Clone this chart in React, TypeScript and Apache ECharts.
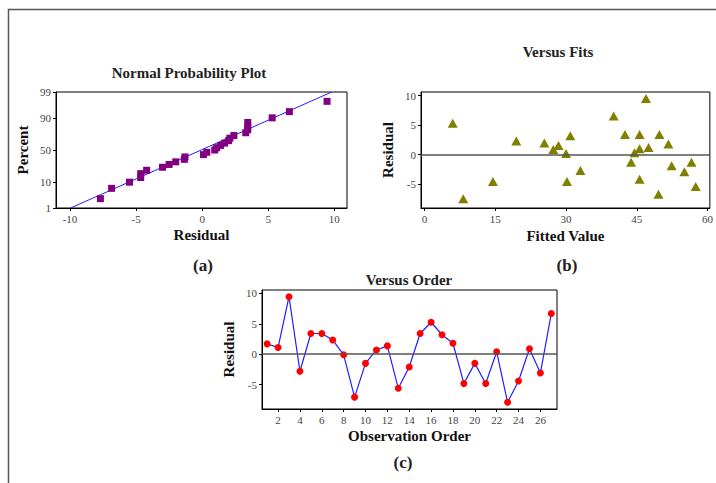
import React, { useEffect, useRef } from "react";
import * as echarts from "echarts";

// (a) Normal probability plot: sorted residuals vs. percent
const probResiduals = [-7.7, -6.85, -5.5, -4.65, -4.65, -4.2, -3.0, -2.5, -2.0, -1.35, -1.3, 0.1, 0.35, 0.95, 1.1, 1.4, 1.7, 2.0, 2.1, 2.4, 3.3, 3.45, 3.45, 3.45, 5.3, 6.6, 9.45];
const probPercents = [2.55, 6.2, 9.85, 13.5, 17.15, 20.8, 24.45, 28.1, 31.75, 35.4, 39.05, 42.7, 46.35, 50.0, 53.65, 57.3, 60.95, 64.6, 68.25, 71.9, 75.55, 79.2, 82.85, 86.5, 90.15, 93.8, 97.45];
const probTickPercents = [1, 10, 50, 90, 99];
const probResidualTicks = [-10, -5, 0, 5, 10];
const fitLinePercents = [1, 99];
const fitLineResiduals = [-9.95, 9.8];

// (b) Versus fits
const fittedValues = [5.97, 8.2, 14.5, 19.45, 25.4, 27.3, 28.4, 30.0, 30.2, 30.9, 33.05, 40.1, 42.5, 43.8, 44.5, 45.6, 45.6, 45.6, 46.95, 47.5, 49.8, 49.6, 51.7, 52.4, 55.1, 56.6, 57.5];
const fitResiduals = [5.3, -7.5, -4.55, 2.3, 1.95, 0.85, 1.55, 0.17, -4.55, 3.2, -2.7, 6.55, 3.4, -1.3, 0.3, 3.4, 1.0, -4.2, 9.5, 1.2, 3.4, -6.7, 1.8, -1.9, -2.9, -1.3, -5.4];
const fitTicks = [0, 15, 30, 45, 60];

// (c) Versus order
const observationOrder = [1, 2, 3, 4, 5, 6, 7, 8, 9, 10, 11, 12, 13, 14, 15, 16, 17, 18, 19, 20, 21, 22, 23, 24, 25, 26, 27];
const orderResiduals = [1.7, 1.1, 9.45, -2.8, 3.4, 3.4, 2.35, -0.1, -7.05, -1.5, 0.7, 1.37, -5.6, -2.1, 3.4, 5.25, 3.2, 1.8, -4.8, -1.5, -4.8, 0.4, -7.9, -4.4, 0.9, -3.1, 6.7];
const orderTicks = [2, 4, 6, 8, 10, 12, 14, 16, 18, 20, 22, 24, 26];
const residualTicks = [-5, 0, 5, 10];

// inverse standard normal CDF (Acklam) – transforms percent to probability-scale position
function normInv(p: number): number {
  const a = [-3.969683028665376e1, 2.209460984245205e2, -2.759285104469687e2, 1.38357751867269e2, -3.066479806614716e1, 2.506628277459239];
  const b = [-5.447609879822406e1, 1.615858368580409e2, -1.556989798598866e2, 6.680131188771972e1, -1.328068155288572e1];
  const c = [-7.784894002430293e-3, -3.223964580411365e-1, -2.400758277161838, -2.549732539343734, 4.374664141464968, 2.938163982698783];
  const d = [7.784695709041462e-3, 3.224671290700398e-1, 2.445134137142996, 3.754408661907416];
  const pl = 0.02425;
  if (p < pl) {
    const q = Math.sqrt(-2 * Math.log(p));
    return (((((c[0] * q + c[1]) * q + c[2]) * q + c[3]) * q + c[4]) * q + c[5]) / ((((d[0] * q + d[1]) * q + d[2]) * q + d[3]) * q + 1);
  }
  if (p > 1 - pl) {
    const q = Math.sqrt(-2 * Math.log(1 - p));
    return -(((((c[0] * q + c[1]) * q + c[2]) * q + c[3]) * q + c[4]) * q + c[5]) / ((((d[0] * q + d[1]) * q + d[2]) * q + d[3]) * q + 1);
  }
  const q = p - 0.5;
  const r = q * q;
  return ((((((a[0] * r + a[1]) * r + a[2]) * r + a[3]) * r + a[4]) * r + a[5]) * q) / (((((b[0] * r + b[1]) * r + b[2]) * r + b[3]) * r + b[4]) * r + 1);
}

const SERIF = "'Liberation Serif', 'Times New Roman', serif";

export default function App() {
  const ref = useRef<HTMLDivElement>(null);

  useEffect(() => {
    if (!ref.current) return;
    const chart = echarts.init(ref.current, null, { renderer: "svg" });

    const zTicks = probTickPercents.map((p) => normInv(p / 100));
    const zMin = normInv(0.01);
    const zMax = normInv(0.99);

    const tickLabel = { fontFamily: SERIF, fontSize: 11, color: "#444", margin: 5 };
    const nameStyle = { fontFamily: SERIF, fontSize: 15, fontWeight: "bold" as const, color: "#111" };
    const axisLine = { show: true, onZero: false, lineStyle: { color: "#000", width: 1 } };
    const axisTickBase = { show: true, length: 3, inside: false, lineStyle: { color: "#000" } };

    const zeroLine = {
      silent: true,
      symbol: "none",
      label: { show: false },
      lineStyle: { color: "#555", width: 1.5, type: "solid" as const },
      data: [{ yAxis: 0 }],
    };

    const gridBase = { show: true, borderColor: "#000", borderWidth: 1, backgroundColor: "transparent", containLabel: false };

    const option: echarts.EChartsOption = {
      animation: false,
      backgroundColor: "#fff",
      grid: [
        { ...gridBase, left: 56, top: 92, width: 291, height: 116 },
        { ...gridBase, left: 421, top: 92, width: 291, height: 116 },
        { ...gridBase, left: 262, top: 290, width: 295, height: 119 },
      ],
      xAxis: [
        {
          type: "value", gridIndex: 0, min: -11.06, max: 10.96,
          axisLine, splitLine: { show: false },
          axisTick: { ...axisTickBase, customValues: probResidualTicks } as any,
          axisLabel: { ...tickLabel, customValues: probResidualTicks } as any,
          name: "Residual", nameLocation: "middle", nameGap: 19, nameTextStyle: nameStyle,
        },
        {
          type: "value", gridIndex: 1, min: -0.76, max: 60.5,
          axisLine, splitLine: { show: false },
          axisTick: { ...axisTickBase, customValues: fitTicks } as any,
          axisLabel: { ...tickLabel, customValues: fitTicks } as any,
          name: "Fitted Value", nameLocation: "middle", nameGap: 20, nameTextStyle: nameStyle,
        },
        {
          type: "value", gridIndex: 2, min: 0.53, max: 27.52,
          axisLine, splitLine: { show: false },
          axisTick: { ...axisTickBase, customValues: orderTicks } as any,
          axisLabel: { ...tickLabel, customValues: orderTicks } as any,
          name: "Observation Order", nameLocation: "middle", nameGap: 19, nameTextStyle: nameStyle,
        },
      ],
      yAxis: [
        {
          type: "value", gridIndex: 0, min: zMin, max: zMax,
          axisLine, splitLine: { show: false },
          axisTick: { ...axisTickBase, customValues: zTicks } as any,
          axisLabel: {
            ...tickLabel,
            customValues: zTicks,
            formatter: (v: number) => {
              let best = 0;
              zTicks.forEach((z, i) => { if (Math.abs(z - v) < Math.abs(zTicks[best] - v)) best = i; });
              return String(probTickPercents[best]);
            },
          } as any,
          name: "Percent", nameLocation: "middle", nameGap: 26, nameTextStyle: nameStyle,
        },
        {
          type: "value", gridIndex: 1, min: -9.05, max: 10.6,
          axisLine, splitLine: { show: false },
          axisTick: { ...axisTickBase, customValues: residualTicks } as any,
          axisLabel: { ...tickLabel, customValues: residualTicks } as any,
          name: "Residual", nameLocation: "middle", nameGap: 26, nameTextStyle: nameStyle,
        },
        {
          type: "value", gridIndex: 2, min: -9.0, max: 10.55,
          axisLine, splitLine: { show: false },
          axisTick: { ...axisTickBase, customValues: residualTicks } as any,
          axisLabel: { ...tickLabel, customValues: residualTicks } as any,
          name: "Residual", nameLocation: "middle", nameGap: 26, nameTextStyle: nameStyle,
        },
      ],
      series: [
        {
          type: "line", xAxisIndex: 0, yAxisIndex: 0, name: "Fit",
          data: fitLineResiduals.map((r, i) => [r, normInv(fitLinePercents[i] / 100)]),
          symbol: "none", lineStyle: { color: "#1f1fff", width: 1 }, z: 2,
        },
        {
          type: "scatter", xAxisIndex: 0, yAxisIndex: 0, name: "Probability",
          data: probResiduals.map((r, i) => [r, normInv(probPercents[i] / 100)]),
          symbol: "rect", symbolSize: 7, itemStyle: { color: "#800080", opacity: 1 }, z: 3,
        },
        {
          type: "scatter", xAxisIndex: 1, yAxisIndex: 1, name: "Versus Fits",
          data: fittedValues.map((f, i) => [f, fitResiduals[i]]),
          symbol: "triangle", symbolSize: [10, 9], itemStyle: { color: "#808000", opacity: 1 }, z: 3,
          markLine: zeroLine,
        },
        {
          type: "line", xAxisIndex: 2, yAxisIndex: 2, name: "Versus Order",
          data: observationOrder.map((o, i) => [o, orderResiduals[i]]),
          symbol: "circle", symbolSize: 7,
          itemStyle: { color: "#ff0000", opacity: 1 },
          lineStyle: { color: "#1f1fff", width: 1.2 }, z: 3,
          markLine: zeroLine,
        },
      ],
      graphic: [
        {
          type: "rect", shape: { x: 8.5, y: 9.5, width: 800, height: 600 },
          style: { fill: "none", stroke: "#555", lineWidth: 1.5 }, silent: true, z: 0,
        },
        { type: "text", x: 189, y: 72.5, style: { text: "Normal Probability Plot", font: `bold 15px ${SERIF}`, fill: "#222", align: "center", verticalAlign: "middle" } },
        { type: "text", x: 558, y: 51.5, style: { text: "Versus Fits", font: `bold 15px ${SERIF}`, fill: "#222", align: "center", verticalAlign: "middle" } },
        { type: "text", x: 409, y: 279.5, style: { text: "Versus Order", font: `bold 15px ${SERIF}`, fill: "#222", align: "center", verticalAlign: "middle" } },
        { type: "text", x: 203, y: 265, style: { text: "(a)", font: `bold 17px ${SERIF}`, fill: "#222", align: "center", verticalAlign: "middle" } },
        { type: "text", x: 567, y: 265, style: { text: "(b)", font: `bold 17px ${SERIF}`, fill: "#222", align: "center", verticalAlign: "middle" } },
        { type: "text", x: 403, y: 462.5, style: { text: "(c)", font: `bold 17px ${SERIF}`, fill: "#222", align: "center", verticalAlign: "middle" } },
      ],
    };

    chart.setOption(option);
    return () => chart.dispose();
  }, []);

  return <div ref={ref} style={{ position: "fixed", left: 0, top: 0, width: 716, height: 483 }} />;
}
